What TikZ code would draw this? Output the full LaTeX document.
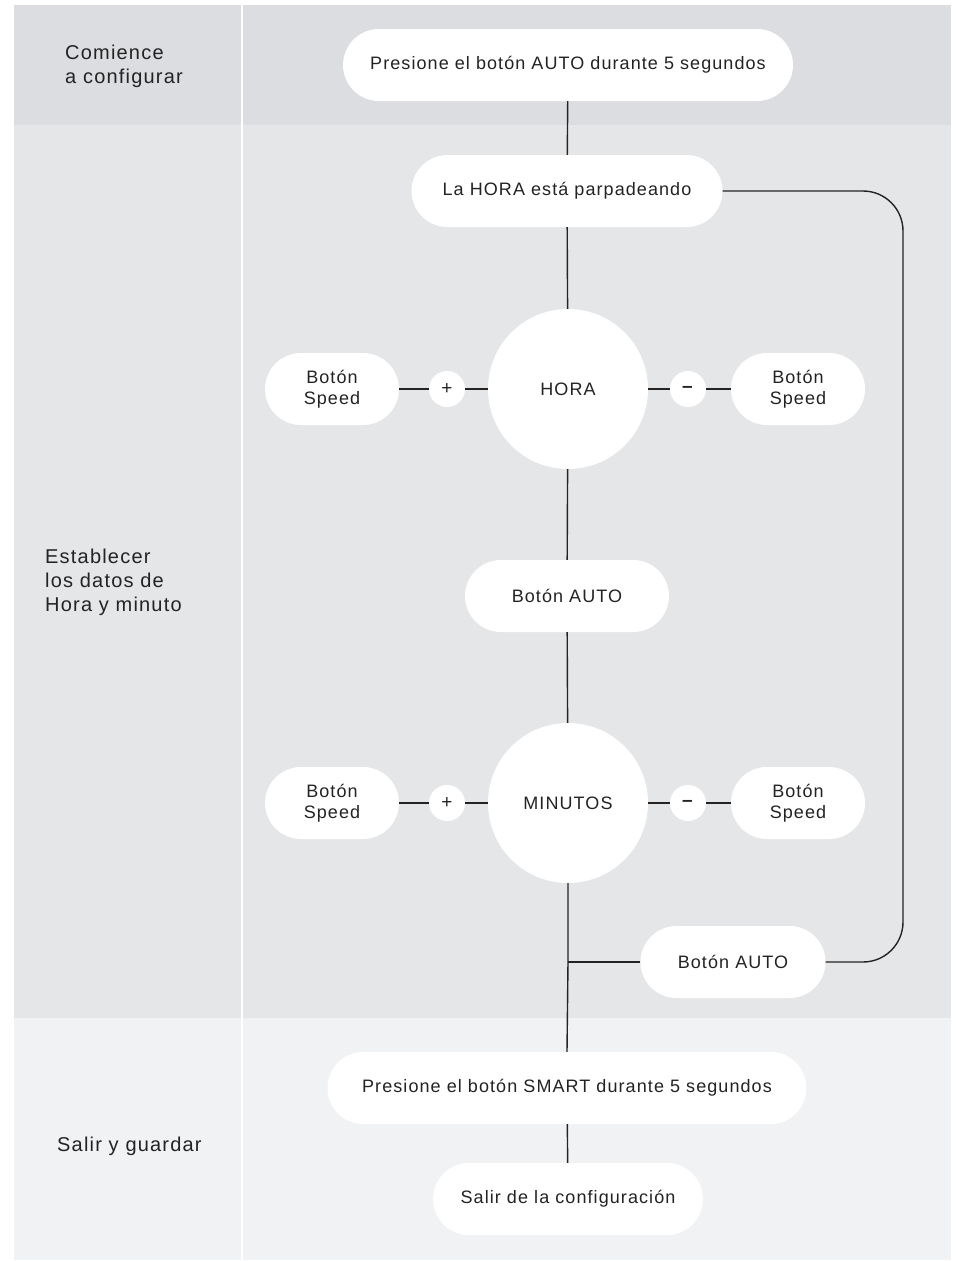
\documentclass[tikz,border=0pt]{standalone}
\usepackage{fontspec}
\setmainfont{Liberation Sans}[LetterSpace=6]
\usetikzlibrary{positioning}
\definecolor{bandA}{HTML}{DCDDE0}
\definecolor{bandB}{HTML}{E5E6E8}
\definecolor{bandC}{HTML}{F1F2F4}
\definecolor{ink}{HTML}{232323}
\tikzset{
  pill/.style={fill=white,rounded corners=36pt,minimum height=72pt,inner sep=0pt,text=ink,font=\fontsize{18}{21}\selectfont},
  big/.style={circle,fill=white,minimum size=160pt,inner sep=0pt,text=ink,font=\fontsize{18}{21}\selectfont},
  sign/.style={circle,fill=white,minimum size=36pt,inner sep=0pt,text=ink,font=\fontsize{19}{20}\selectfont},
  stage/.style={anchor=west,align=left,inner sep=0pt,text=ink,font=\fontsize{20}{24}\selectfont},
  link/.style={draw=ink,line width=1.4pt}
}
\begin{document}
\begin{tikzpicture}[x=1pt,y=-1pt]
\useasboundingbox (0,0) rectangle (956,1261);
\fill[bandA] (14,5) rectangle (951,125);
\fill[bandB] (14,125) rectangle (951,1018);
\fill[bandC] (14,1018) rectangle (951,1260);
\fill[white] (241,5) rectangle (243,1260);
\node[stage] (s1) at (65,66) {Comience\\a configurar};
\node[stage] (s2) at (45,582) {Establecer\\los datos de\\Hora y minuto};
\node[stage] (s3) at (57,1146) {Salir y guardar};
\node[pill,minimum width=450pt] (P) at (568,65) {Presione el botón AUTO durante 5 segundos};
\node[pill,minimum width=311pt] (B) at (567,191) {La HORA está parpadeando};
\node[big] (H) at (568,389) {HORA};
\node[sign] (hp) at (447,389) {+};
\node[sign] (hm) at (688,389) {\textbf{--}};
\node[pill,minimum width=134pt,align=center] (hl) at (332,389) {Botón\\Speed};
\node[pill,minimum width=134pt,align=center] (hr) at (798,389) {Botón\\Speed};
\node[pill,minimum width=204pt] (A1) at (567,596) {Botón AUTO};
\node[big] (M) at (568,803) {MINUTOS};
\node[sign] (mp) at (447,803) {+};
\node[sign] (mm) at (688,803) {\textbf{--}};
\node[pill,minimum width=134pt,align=center] (ml) at (332,803) {Botón\\Speed};
\node[pill,minimum width=134pt,align=center] (mr) at (798,803) {Botón\\Speed};
\node[pill,minimum width=185pt] (A2) at (733,962) {Botón AUTO};
\node[pill,minimum width=479pt] (S) at (567,1088) {Presione el botón SMART durante 5 segundos};
\node[pill,minimum width=270pt] (E) at (568,1199) {Salir de la configuración};
\coordinate (J) at (568,962);
\coordinate (R) at (903,576);
\draw[link] (P) -- (B);
\draw[link] (B) -- (H);
\draw[link] (hl) -- (hp) -- (H) -- (hm) -- (hr);
\draw[link] (H) -- (A1);
\draw[link] (A1) -- (M);
\draw[link] (ml) -- (mp) -- (M) -- (mm) -- (mr);
\draw[link] (M.south) -- (J) -- (S.north);
\draw[link] (J) -- (A2.west);
\draw[link,rounded corners=40pt] (A2.east) -| (R) |- (B.east);
\draw[link] (S) -- (E);
\end{tikzpicture}
\end{document}
